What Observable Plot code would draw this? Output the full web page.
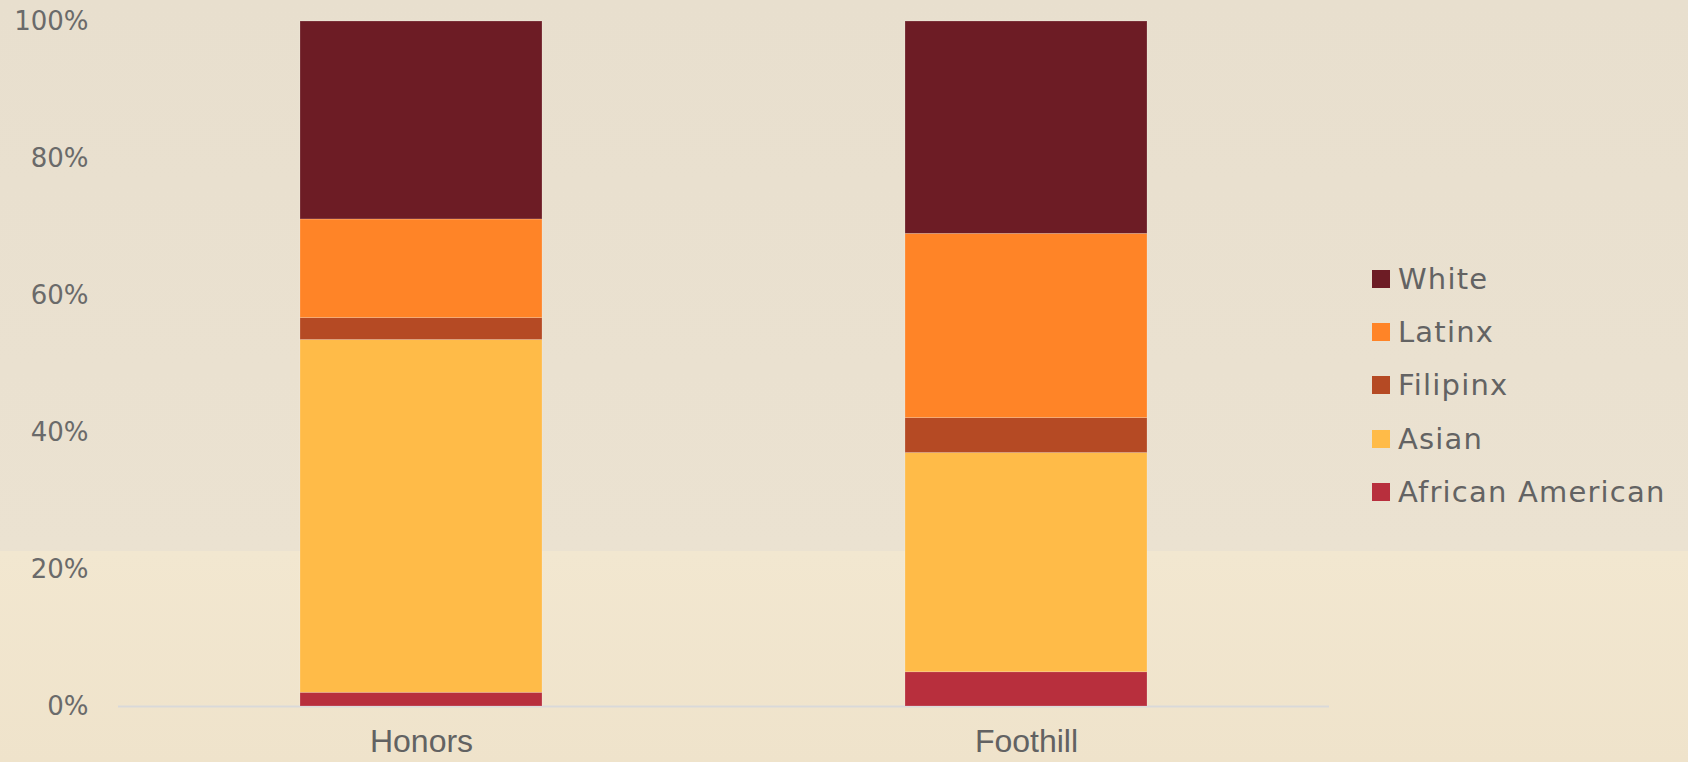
<!DOCTYPE html>
<html>
<head>
<meta charset="utf-8">
<script src="https://cdn.jsdelivr.net/npm/d3@7"></script>
<script src="https://cdn.jsdelivr.net/npm/@observablehq/plot@0.6"></script>
<style>
  html, body { margin: 0; padding: 0; }
  body {
    width: 1688px; height: 762px; overflow: hidden; position: relative;
    background: linear-gradient(to bottom, #E8DFCE 0px, #EBE2D1 551px, #F2E7D0 551px, #EFE3CB 762px);
    font-family: "DejaVu Sans", sans-serif;
  }
  #chart { position: absolute; left: 0; top: 0; }
  #legend { position: absolute; left: 1372px; top: 252px; }
  .item { display: flex; align-items: center; height: 53.3px; }
  .sw { width: 18px; height: 18px; margin-right: 8px; }
  .lab { font-family: "DejaVu Sans", sans-serif; font-size: 29px; color: #636363; letter-spacing: 1.2px; }
</style>
</head>
<body>
<div id="chart"></div>
<div id="legend"></div>
<script>
const categories = ["Honors", "Foothill"];
const races = ["African American", "Asian", "Filipinx", "Latinx", "White"];
const honors = [2.0, 51.5, 3.2, 14.4, 28.9];
const foothill = [5.0, 32.0, 5.1, 26.9, 31.0];
const colors = ["#B82F3D", "#FFBB48", "#B54A24", "#FF8427", "#6D1C25"];
const yTicks = [0, 20, 40, 60, 80, 100];
const legendOrder = ["White", "Latinx", "Filipinx", "Asian", "African American"];

const series = [honors, foothill];
const data = [];
categories.forEach((c, i) => {
  races.forEach((r, j) => data.push({group: c, race: r, value: series[i][j]}));
});

const chart = Plot.plot({
  width: 1688,
  height: 762,
  marginLeft: 118,
  marginRight: 359,
  marginTop: 21,
  marginBottom: 56,
  style: {background: "transparent", fontFamily: "DejaVu Sans, sans-serif"},
  x: {domain: categories, paddingInner: 0.6, paddingOuter: 0.3, label: null},
  y: {domain: [0, 100], label: null},
  color: {domain: races, range: colors},
  marks: [
    Plot.axisY({ticks: yTicks, tickFormat: d => d + "%", tickSize: 0, tickPadding: 30,
      fontSize: 26, fill: "#6A6A6A", label: null}),
    Plot.axisX({tickSize: 0, tickPadding: 23, fontSize: 32, fill: "#626262", label: null,
      fontFamily: "Liberation Sans Narrow, Liberation Sans, sans-serif"}),
    Plot.ruleY([0], {stroke: "#D9D9D9", strokeWidth: 2}),
    Plot.barY(data, Plot.stackY({x: "group", y: "value", z: "race", fill: "race",
      order: null, stroke: "#ffffff", strokeOpacity: 0.25, strokeWidth: 0.75}))
  ]
});
document.getElementById("chart").appendChild(chart);

const leg = document.getElementById("legend");
legendOrder.forEach(r => {
  const it = document.createElement("div");
  it.className = "item";
  const sw = document.createElement("div");
  sw.className = "sw";
  sw.style.background = colors[races.indexOf(r)];
  const lab = document.createElement("span");
  lab.className = "lab";
  lab.textContent = r;
  it.appendChild(sw); it.appendChild(lab);
  leg.appendChild(it);
});
</script>
</body>
</html>
